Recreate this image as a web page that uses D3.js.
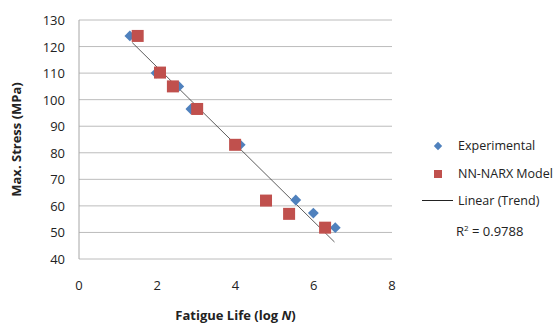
<!DOCTYPE html>
<html lang="en">
<head>
<meta charset="utf-8">
<title>Fatigue Life vs Max. Stress</title>
<script src="https://d3js.org/d3.v7.min.js"></script>
<style>
    body { margin: 0; background: #fff; }
    text { font-family: "Open Sans", "Liberation Sans", sans-serif; fill: #222; }
</style>
</head>
<body>
<div id="chart"></div>
<script>
    // values
    const expLogN = [1.30, 1.97, 2.55, 2.86, 4.12, 5.54, 5.99, 6.55];
    const expStress = [124, 110, 105, 96.5, 83, 62.2, 57.3, 51.8];
    const narxLogN = [1.50, 2.07, 2.40, 3.02, 3.99, 4.78, 5.37, 6.29];
    const narxStress = [124, 110.2, 105, 96.5, 83, 62, 57, 51.8];
    const trendLogN = [1.36, 6.53];
    const trendStress = [121.5, 46.4];
    const xTicks = [0, 2, 4, 6, 8];
    const yTicks = [40, 50, 60, 70, 80, 90, 100, 110, 120, 130];

    const width = 557, height = 325;
    const margin = {left: 79, right: 165, top: 20, bottom: 66};

    const svg = d3.select("#chart").append("svg")
        .attr("width", width)
        .attr("height", height);

    const x = d3.scaleLinear().domain([0, 8]).range([margin.left, width - margin.right]);
    const y = d3.scaleLinear().domain([40, 130]).range([height - margin.bottom, margin.top]);

    // gridlines
    svg.append("g").selectAll("line")
        .data(yTicks)
        .enter().append("line")
        .attr("x1", x(0)).attr("x2", x(8))
        .attr("y1", d => y(d)).attr("y2", d => y(d))
        .attr("stroke", "#bcbcbc").attr("stroke-width", 1);

    // y axis line
    svg.append("line")
        .attr("x1", x(0)).attr("x2", x(0))
        .attr("y1", y(40)).attr("y2", y(130))
        .attr("stroke", "#a6a6a6");

    svg.append("g").selectAll("text")
        .data(yTicks)
        .enter().append("text")
        .attr("x", x(0) - 14)
        .attr("y", d => y(d) + 5)
        .attr("text-anchor", "end")
        .attr("font-size", 13)
        .text(d => d);

    svg.append("g").selectAll("text")
        .data(xTicks)
        .enter().append("text")
        .attr("x", d => x(d))
        .attr("y", y(40) + 31)
        .attr("text-anchor", "middle")
        .attr("font-size", 13)
        .text(d => d);

    // trend line
    svg.append("line")
        .attr("x1", x(trendLogN[0])).attr("y1", y(trendStress[0]))
        .attr("x2", x(trendLogN[1])).attr("y2", y(trendStress[1]))
        .attr("stroke", "#333").attr("stroke-width", 0.8);

    const diamond = d3.symbol().type(d3.symbolDiamond2).size(75);

    svg.append("g").selectAll("path")
        .data(d3.zip(expLogN, expStress))
        .enter().append("path")
        .attr("d", diamond)
        .attr("transform", d => `translate(${x(d[0])},${y(d[1])})`)
        .attr("fill", "#4f81bd");

    const sq = 12;
    svg.append("g").selectAll("rect")
        .data(d3.zip(narxLogN, narxStress))
        .enter().append("rect")
        .attr("x", d => x(d[0]) - sq / 2)
        .attr("y", d => y(d[1]) - sq / 2)
        .attr("width", sq).attr("height", sq)
        .attr("fill", "#c0504d");

    // axis titles
    svg.append("text")
        .attr("transform", `translate(21,${(y(40) + y(130)) / 2}) rotate(-90)`)
        .attr("text-anchor", "middle")
        .attr("font-size", 13)
        .attr("font-weight", "bold")
        .text("Max. Stress (MPa)");

    const xt = svg.append("text")
        .attr("x", x(4))
        .attr("y", 320)
        .attr("text-anchor", "middle")
        .attr("font-size", 13)
        .attr("font-weight", "bold");
    xt.append("tspan").text("Fatigue Life (log ");
    xt.append("tspan").attr("font-style", "italic").text("N");
    xt.append("tspan").text(")");

    // legend
    const lg = svg.append("g");
    lg.append("path").attr("d", d3.symbol().type(d3.symbolDiamond2).size(45))
        .attr("transform", "translate(438,146)").attr("fill", "#4f81bd");
    lg.append("text").attr("x", 458).attr("y", 150).attr("font-size", 12.5).text("Experimental");
    lg.append("rect").attr("x", 434).attr("y", 170).attr("width", 8).attr("height", 8).attr("fill", "#c0504d");
    lg.append("text").attr("x", 458).attr("y", 178).attr("font-size", 12.5).text("NN-NARX Model");
    lg.append("line").attr("x1", 422).attr("x2", 453).attr("y1", 200.5).attr("y2", 200.5)
        .attr("stroke", "#222").attr("stroke-width", 1);
    lg.append("text").attr("x", 458).attr("y", 205).attr("font-size", 12.5).text("Linear (Trend)");

    const r2 = lg.append("text").attr("x", 456).attr("y", 236).attr("font-size", 13);
    r2.append("tspan").text("R");
    r2.append("tspan").attr("font-size", 8).attr("dy", -5).text("2");
    r2.append("tspan").attr("dy", 5).text(" = 0.9788");
</script>
</body>
</html>
